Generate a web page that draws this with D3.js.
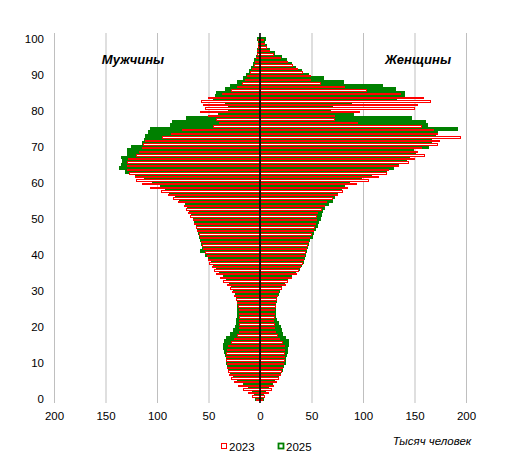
<!DOCTYPE html>
<html><head><meta charset="utf-8">
<script src="https://cdn.jsdelivr.net/npm/d3@7/dist/d3.min.js"></script>
<style>
body{margin:0;background:#fff;}
svg{font-family:"Liberation Sans",Arial,sans-serif;}
</style></head><body>
<svg id="chart" width="514" height="461"></svg>
<script>
const ages = d3.range(0, 101);
const male2023 = [3,7,11,16,21,25,28,30,31,32,32,33,33,33,32,31,28,25,22,20,20,20,20,20,20,20,21,22,23,25,27,29,32,35,38,42,44,46,49,50,51,53,55,56,57,58,59,61,62,64,65,67,69,71,73,79,84,89,96,106,114,120,121,127,129,129,129,128,120,117,114,113,111,95,86,75,45,39,42,50,58,53,55,57,50,36,28,22,17,14,12,9,7,5,4,3,2,2,1,1,1];
const male2025 = [4,5,7,11,16,21,25,28,30,31,32,32,33,34,35,35,34,32,28,25,23,22,22,21,21,21,21,21,22,23,25,27,29,32,35,39,42,45,47,50,52,57,55,56,57,58,59,60,61,63,64,66,68,70,72,78,82,87,91,96,104,112,120,130,136,134,133,134,128,128,124,114,112,111,108,106,86,84,71,40,30,30,33,45,43,42,33,28,21,16,13,10,8,6,5,3,2,2,1,1,2];
const female2023 = [2,4,8,11,13,16,18,20,21,22,23,24,24,24,24,24,22,19,17,15,14,14,13,14,14,14,15,15,16,17,18,21,25,27,31,35,37,39,41,42,43,44,45,46,47,48,50,52,53,54,55,55,56,60,63,65,70,75,80,85,94,105,115,123,125,134,144,150,160,153,157,172,174,195,172,168,157,95,72,72,97,150,153,166,159,136,103,82,59,49,49,41,36,32,27,20,13,9,6,4,3];
const female2025 = [3,3,5,8,12,14,17,19,21,22,24,24,25,26,26,27,27,24,21,20,19,17,16,15,15,15,15,16,16,17,18,20,23,26,30,34,38,40,42,43,44,45,46,47,48,50,51,53,55,56,58,59,60,62,66,70,72,75,79,82,86,98,108,122,129,134,142,145,150,149,163,166,166,170,172,191,162,160,147,90,68,70,88,132,140,140,131,118,81,61,47,40,34,30,25,20,14,9,6,4,5];
const xTicks = [-200,-150,-100,-50,0,50,100,150,200];
const yTicks = [0,10,20,30,40,50,60,70,80,90,100];
const seriesNames = ["2023","2025"];
const seriesColors = {"2023":"#ff0000","2025":"#008000"};
const seriesStroke = {"2023":1,"2025":2};
const seriesFrac = {"2023":0.8,"2025":1};

const svg = d3.select("#chart");
const plotTop = 33, plotBottom = 403;
const x = d3.scaleLinear().domain([-200,200]).range([54,466]);
const y = d3.scaleBand().domain(ages).range([401.3,37.7]).padding(0);
const inner = d3.scaleBand().domain(["2025","2023"]).range([0,y.bandwidth()]);

// gridlines
svg.append("g").attr("transform",`translate(0,${plotBottom})`)
  .call(d3.axisBottom(x).tickValues(xTicks.filter(d=>d!==0)).tickSize(-(plotBottom-plotTop)).tickFormat(""))
  .call(g=>g.select(".domain").remove())
  .call(g=>g.selectAll("line").attr("stroke","#bfbfbf").attr("stroke-width",1));

const rows = [];
ages.forEach((a,i)=>{
  rows.push({age:a,s:"2025",v:-male2025[i]});
  rows.push({age:a,s:"2025",v:female2025[i]});
});
ages.forEach((a,i)=>{
  rows.push({age:a,s:"2023",v:-male2023[i]});
  rows.push({age:a,s:"2023",v:female2023[i]});
});
svg.append("g").attr("shape-rendering","crispEdges").selectAll("rect").data(rows).join("rect")
  .attr("x",d=>Math.min(x(0),x(d.v)))
  .attr("width",d=>Math.abs(x(d.v)-x(0)))
  .attr("y",d=>y(d.age)+inner(d.s))
  .attr("height",d=>inner.bandwidth()*seriesFrac[d.s])
  .attr("fill","#fff")
  .attr("stroke",d=>seriesColors[d.s])
  .attr("stroke-width",d=>seriesStroke[d.s]);

// center axis line
svg.append("line").attr("x1",x(0)).attr("x2",x(0)).attr("y1",plotTop).attr("y2",plotBottom)
  .attr("stroke","#000").attr("stroke-width",1.6);

// y axis labels
svg.append("g").attr("transform","translate(48,0)")
  .call(d3.axisLeft(y).tickValues(yTicks).tickSize(0).tickPadding(4))
  .call(g=>g.select(".domain").remove())
  .call(g=>g.selectAll("text").attr("font-size","11.5px").attr("fill","#000").attr("font-family","Liberation Sans, Arial, sans-serif"));

// x axis labels
svg.append("g").attr("transform",`translate(0,${plotBottom})`)
  .call(d3.axisBottom(x).tickValues(xTicks).tickSize(0).tickPadding(9).tickFormat(d=>Math.abs(d)))
  .call(g=>g.select(".domain").remove())
  .call(g=>g.selectAll("text").attr("font-size","11.5px").attr("fill","#000").attr("font-family","Liberation Sans, Arial, sans-serif"));

// side titles
svg.append("text").attr("x",133).attr("y",64).attr("text-anchor","middle")
  .attr("font-size","13px").attr("font-weight","bold").attr("font-style","italic").text("Мужчины");
svg.append("text").attr("x",418).attr("y",64).attr("text-anchor","middle")
  .attr("font-size","13px").attr("font-weight","bold").attr("font-style","italic").text("Женщины");

// units
svg.append("text").attr("x",432).attr("y",445).attr("text-anchor","middle")
  .attr("font-size","11.5px").attr("font-style","italic").text("Тысяч человек");

// legend
const legX = [221,278];
seriesNames.forEach((s,i)=>{
  const g = svg.append("g").attr("transform",`translate(${legX[i]},443)`);
  g.append("rect").attr("x",0.5).attr("y",0.5).attr("width",5).attr("height",5)
    .attr("fill","#fff").attr("stroke",seriesColors[s]).attr("stroke-width",s==="2025"?1.8:1);
  g.append("text").attr("x",8).attr("y",7.5).attr("font-size","11.5px").text(s);
});
</script></body></html>
